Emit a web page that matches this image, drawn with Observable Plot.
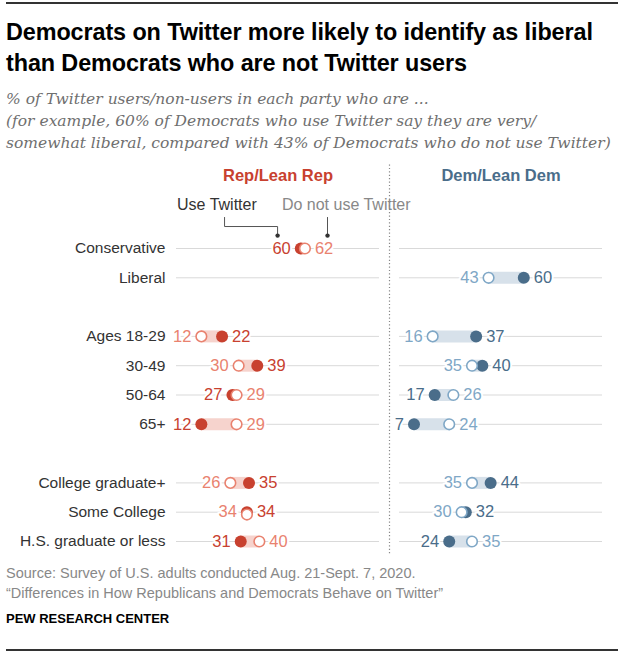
<!DOCTYPE html>
<html>
<head>
<meta charset="utf-8">
<script src="https://cdn.jsdelivr.net/npm/d3@7"></script>
<script src="https://cdn.jsdelivr.net/npm/@observablehq/plot@0.6"></script>
<style>
  body { margin:0; background:#fff; width:640px; height:659px; position:relative; overflow:hidden; font-family:"Liberation Sans", Arial, sans-serif; }
  .rule { position:absolute; left:6px; width:612px; height:2px; background:#333; }
  #title { position:absolute; left:6px; top:17px; font-family:"Liberation Sans", Arial, sans-serif; font-weight:bold; font-size:23.4px; line-height:31px; color:#000; letter-spacing:-0.1px; }
  #sub { position:absolute; left:6px; top:88px; font-family:"DejaVu Serif",serif; font-style:italic; font-size:15.5px; line-height:22px; color:#6f6f6f; }
  #chart { position:absolute; left:0; top:160px; }
  #src { position:absolute; left:6px; top:563px; font-size:14.5px; line-height:20px; color:#888; }
  #pew { position:absolute; left:6px; top:611px; font-size:13px; font-weight:bold; color:#000; }
</style>
</head>
<body>
<div class="rule" style="top:2px"></div>
<div id="title">Democrats on Twitter more likely to identify as liberal<br>than Democrats who are not Twitter users</div>
<div id="sub">% of Twitter users/non-users in each party who are ...<br>(for example, 60% of Democrats who use Twitter say they are very/<br>somewhat liberal, compared with 43% of Democrats who do not use Twitter)</div>
<div id="chart"></div>
<div id="src">Source: Survey of U.S. adults conducted Aug. 21-Sept. 7, 2020.<br>“Differences in How Republicans and Democrats Behave on Twitter”</div>
<div id="pew">PEW RESEARCH CENTER</div>
<div class="rule" style="top:649px"></div>
<script>
const categories = ["Conservative","Liberal","Ages 18-29","30-49","50-64","65+","College graduate+","Some College","H.S. graduate or less"];
const groupIndex = [0,0,1,1,1,1,2,2,2];
const parties = ["Rep","Dem"];
const partyLabels = ["Rep/Lean Rep","Dem/Lean Dem"];
const repTwitter    = [60, null, 22, 39, 27, 12, 35, 34, 31];
const repNonTwitter = [62, null, 12, 30, 29, 29, 26, 34, 40];
const demTwitter    = [null, 60, 37, 40, 17, 7, 44, 32, 24];
const demNonTwitter = [null, 43, 16, 35, 26, 24, 35, 30, 35];
const legendLabels = ["Use Twitter","Do not use Twitter"];

const colors = {
  Rep: {dark:"#c8412f", light:"#e9826f", bar:"#f6d3cd"},
  Dem: {dark:"#4a6d8a", light:"#7fa7c6", bar:"#d7e1ea"}
};

const tickPos = categories.map((c,i) => i + groupIndex[i]);
const labelAt = new Map(categories.map((c,i) => [i + groupIndex[i], c]));

const rows = [];
parties.forEach((p, pi) => {
  const tw = pi === 0 ? repTwitter : demTwitter;
  const nt = pi === 0 ? repNonTwitter : demNonTwitter;
  categories.forEach((c, i) => {
    if (tw[i] == null) return;
    rows.push({party:p, category:c, pos:i + groupIndex[i], twitter:tw[i], non:nt[i]});
  });
});
const headers = parties.map((p,i) => ({party:p, label:partyLabels[i]}));

const v0 = repTwitter[0], n0 = repNonTwitter[0];
const leader1 = [
  {party:"Rep", x:v0-36.8, y:-1.06},
  {party:"Rep", x:v0-36.8, y:-0.75},
  {party:"Rep", x:v0-11.2, y:-0.75},
  {party:"Rep", x:v0-11.2, y:-0.44}
];
const leader2 = [
  {party:"Rep", x:n0+10.9, y:-1.06},
  {party:"Rep", x:n0+10.9, y:-0.44}
];
const leaderEnds = [leader1[3], leader2[1]];

const txt = {fontSize:16.5, stroke:"white", strokeWidth:4};

const chart = Plot.plot({
  width:640, height:395,
  marginTop:88, marginBottom:14, marginLeft:176, marginRight:38,
  x:{domain:[0,98], axis:null},
  y:{domain:[0,10], reverse:true},
  fx:{domain:parties, paddingInner:0.0897, paddingOuter:0, axis:null},
  color:{type:"identity"},
  style:{fontFamily:"'Liberation Sans', Arial, sans-serif", fontSize:"15px", background:"white"},
  marks:[
    Plot.ruleY(tickPos, {y:d=>d, stroke:"#d9d9d9", strokeWidth:1}),
    Plot.ruleX([98], {x:d=>d, facetAnchor:"left", dx:10, y1:()=>-2.85, y2:()=>10.45, stroke:"#888", strokeDasharray:"1.2,2.2", strokeWidth:1.2}),
    Plot.ruleY(rows, {fx:"party", y:"pos", x1:"twitter", x2:"non", stroke:d=>colors[d.party].bar, strokeWidth:12}),
    Plot.dot(rows, {fx:"party", x:"twitter", y:"pos", r:6, fill:d=>colors[d.party].dark}),
    Plot.dot(rows, {fx:"party", x:"non", y:d=>d.pos + (d.twitter === d.non ? 0.08 : 0), r:5.3, fill:"white", stroke:d=>colors[d.party].light, strokeWidth:1.6}),
    Plot.text(rows.filter(d=>d.twitter >= d.non), {fx:"party", x:"twitter", y:"pos", text:d=>String(d.twitter), textAnchor:"start", dx:10, fill:d=>colors[d.party].dark, ...txt}),
    Plot.text(rows.filter(d=>d.twitter < d.non), {fx:"party", x:"twitter", y:"pos", text:d=>String(d.twitter), textAnchor:"end", dx:-10, fill:d=>colors[d.party].dark, ...txt}),
    Plot.text(rows.filter(d=>d.non > d.twitter), {fx:"party", x:"non", y:"pos", text:d=>String(d.non), textAnchor:"start", dx:10, fill:d=>colors[d.party].light, ...txt}),
    Plot.text(rows.filter(d=>d.non <= d.twitter), {fx:"party", x:"non", y:"pos", text:d=>String(d.non), textAnchor:"end", dx:-10, fill:d=>colors[d.party].light, ...txt}),
    Plot.axisY(tickPos, {tickFormat:p=>labelAt.get(p), tickSize:0, tickPadding:11, fontSize:15.5, fill:"#333", label:null}),
    Plot.text(headers, {fx:"party", y:()=>-2.5, text:"label", frameAnchor:"middle", fontWeight:"bold", fontSize:16.5, fill:d=>colors[d.party].dark}),
    Plot.text([{party:"Rep", label:legendLabels[0]}], {fx:"party", x:()=>v0, y:()=>-1.5, text:"label", textAnchor:"end", dx:-44, fontSize:16, fill:"#333"}),
    Plot.text([{party:"Rep", label:legendLabels[1]}], {fx:"party", x:()=>n0, y:()=>-1.5, text:"label", textAnchor:"start", dx:-23, fontSize:16, fill:"#888"}),
    Plot.line(leader1, {fx:"party", x:"x", y:"y", stroke:"#555", strokeWidth:1}),
    Plot.line(leader2, {fx:"party", x:"x", y:"y", stroke:"#555", strokeWidth:1}),
    Plot.dot(leaderEnds, {fx:"party", x:"x", y:"y", r:2.2, fill:"#333"})
  ]
});
document.getElementById("chart").appendChild(chart);
</script>
</body>
</html>
